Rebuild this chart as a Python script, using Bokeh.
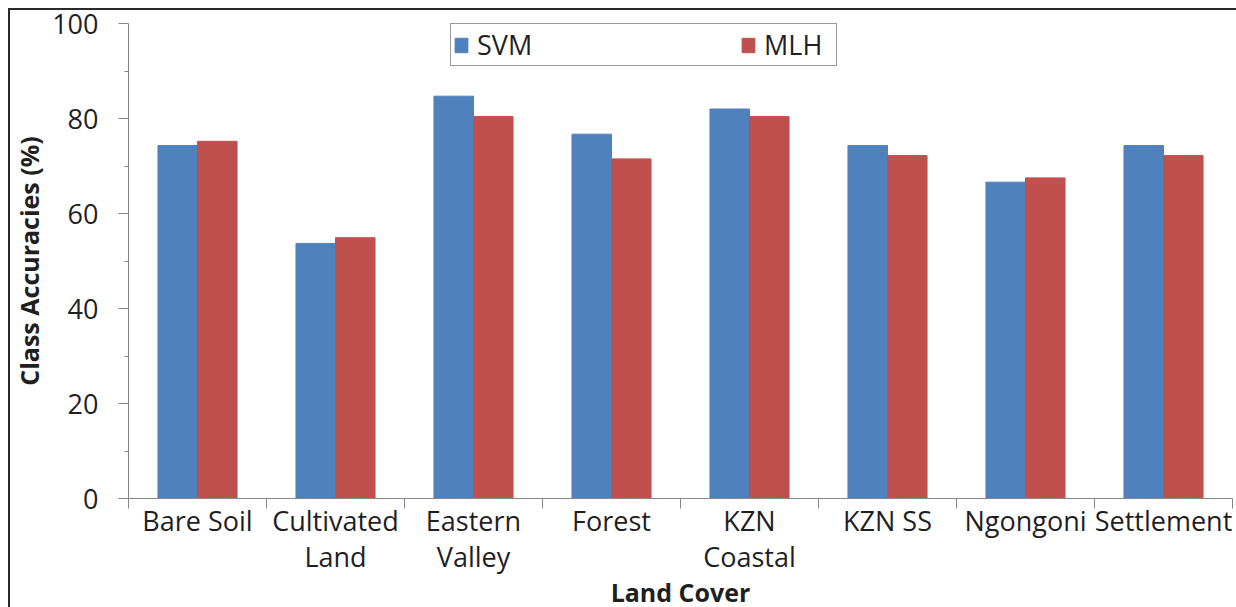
from bokeh.plotting import figure
from bokeh.models import Range1d, FixedTicker, Legend, LegendItem
from bokeh.embed import file_html
from bokeh.resources import INLINE

# Class accuracy per land-cover type
categories = ["Bare Soil", "Cultivated Land", "Eastern Valley", "Forest",
              "KZN Coastal", "KZN SS", "Ngongoni", "Settlement"]
tick_labels = ["Bare Soil", "Cultivated\nLand", "Eastern\nValley", "Forest",
               "KZN\nCoastal", "KZN SS", "Ngongoni", "Settlement"]
svm = [74.3, 53.7, 84.7, 76.7, 82.0, 74.3, 66.6, 74.3]
mlh = [75.2, 54.9, 80.4, 71.5, 80.4, 72.2, 67.5, 72.2]
y_ticks = [0, 20, 40, 60, 80, 100]
y_minor = [10, 30, 50, 70, 90]

FONT = "Open Sans"
TEXT = "#1f1f1f"
AXIS = "#868686"
BLUE = "#4F81BD"
RED = "#C0504D"

n = len(categories)
centers = [i + 0.5 for i in range(n)]
bar_w = 0.2865

# chart-area frame: two dark rules along the top and left edge of the page
frame_css = ("linear-gradient(#2a2a2a,#2a2a2a) 8px 8px / 2px 100% no-repeat, "
             "linear-gradient(#2a2a2a,#2a2a2a) 8px 8px / 100% 2px no-repeat, white")

p = figure(frame_width=1104, frame_height=475, output_backend="svg",
           toolbar_location=None,
           x_range=Range1d(0, n), y_range=Range1d(0, 100),
           min_border_left=128, min_border_right=4, min_border_top=23,
           min_border_bottom=100, styles={"background": frame_css})
p.outline_line_color = None
p.grid.visible = False
p.background_fill_color = "white"
p.border_fill_alpha = 0

svm_r = p.vbar(x=[c - bar_w / 2 for c in centers], top=svm, width=bar_w,
               fill_color=BLUE, line_color=BLUE)
mlh_r = p.vbar(x=[c + bar_w / 2 for c in centers], top=mlh, width=bar_w,
               fill_color=RED, line_color=RED)

# x axis: labels centred under each group, tick marks between groups
xa = p.xaxis[0]
xa.ticker = FixedTicker(ticks=centers, minor_ticks=list(range(n + 1)))
xa.major_label_overrides = {c: lab for c, lab in zip(centers, tick_labels)}
xa.major_tick_out = 0
xa.major_tick_in = 0
xa.minor_tick_out = 10
xa.minor_tick_in = 0
xa.minor_tick_line_color = AXIS
xa.axis_line_color = AXIS
xa.major_label_standoff = -7
xa.major_label_text_font = FONT
xa.major_label_text_font_size = "27px"
xa.major_label_text_line_height = 0.98
xa.major_label_text_color = TEXT
xa.axis_label = "Land Cover"
xa.axis_label_text_font = FONT
xa.axis_label_text_font_style = "bold"
xa.axis_label_text_font_size = "25px"
xa.axis_label_text_color = TEXT
xa.axis_label_standoff = -3

ya = p.yaxis[0]
ya.ticker = FixedTicker(ticks=y_ticks, minor_ticks=y_minor)
ya.major_tick_out = 10
ya.major_tick_in = 0
ya.minor_tick_out = 4
ya.minor_tick_in = 0
ya.major_tick_line_color = AXIS
ya.minor_tick_line_color = AXIS
ya.axis_line_color = AXIS
ya.major_label_standoff = 20
ya.major_label_text_font = FONT
ya.major_label_text_font_size = "27px"
ya.major_label_text_color = TEXT
ya.axis_label = "Class Accuracies (%)"
ya.axis_label_text_font = FONT
ya.axis_label_text_font_style = "bold"
ya.axis_label_text_font_size = "25px"
ya.axis_label_text_color = TEXT
ya.axis_label_standoff = 3

legend = Legend(items=[LegendItem(label="SVM", renderers=[svm_r]),
                       LegendItem(label="MLH", renderers=[mlh_r])],
                orientation="horizontal", location=(322, 432))
legend.spacing = 193
legend.padding = 2
legend.margin = 0
legend.glyph_width = 16
legend.glyph_height = 18
legend.label_standoff = 8
legend.label_width = 70
legend.label_text_font = FONT
legend.label_text_font_size = "27px"
legend.label_text_color = TEXT
legend.border_line_color = "#333333"
legend.border_line_width = 1.5
legend.background_fill_alpha = 1
p.add_layout(legend, "center")

open("out.html", "w").write(file_html(p, INLINE))
